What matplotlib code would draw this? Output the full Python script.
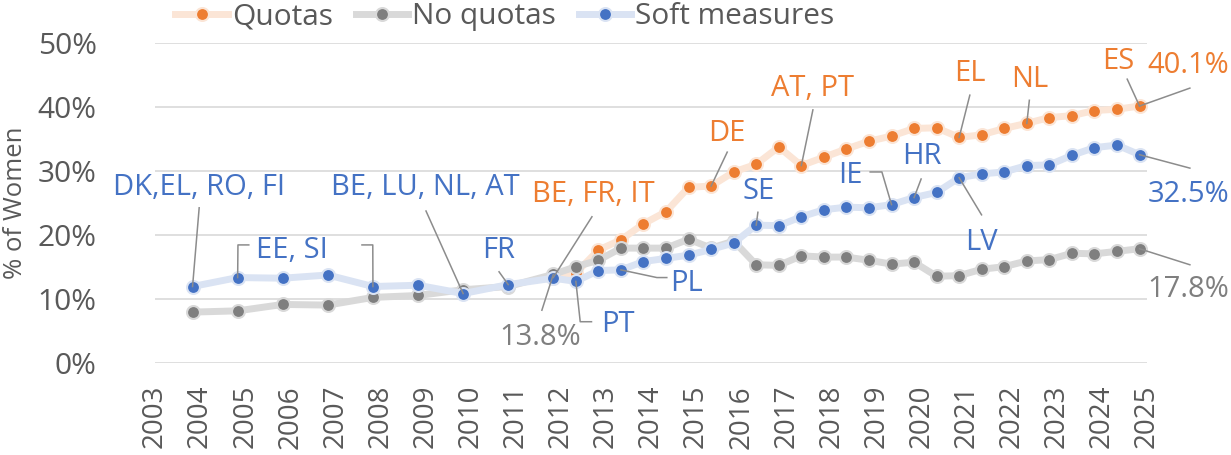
import numpy as np
import matplotlib.pyplot as plt
from matplotlib.lines import Line2D

# survey rounds: October each year up to 2011, then April and October
periods = ["2003-10", "2004-10", "2005-10", "2006-10", "2007-10", "2008-10",
           "2009-10", "2010-10", "2011-10", "2012-04", "2012-10", "2013-04",
           "2013-10", "2014-04", "2014-10", "2015-04", "2015-10", "2016-04",
           "2016-10", "2017-04", "2017-10", "2018-04", "2018-10", "2019-04",
           "2019-10", "2020-04", "2020-10", "2021-04", "2021-10", "2022-04",
           "2022-10", "2023-04", "2023-10", "2024-04", "2024-10"]

quotas = [np.nan, np.nan, np.nan, np.nan, np.nan, np.nan, np.nan, np.nan,
          13.3, 14.0, 17.6, 19.2, 21.7, 23.6, 27.4, 27.6, 29.8, 31.0, 33.7,
          30.8, 32.1, 33.4, 34.6, 35.4, 36.6, 36.7, 35.2, 35.6, 36.6, 37.4,
          38.3, 38.6, 39.4, 39.6, 40.1]
no_quotas = [7.9, 8.1, 9.1, 9.0, 10.2, 10.5, 11.4, 11.9, 13.8, 15.0, 16.0,
             17.9, 17.9, 17.9, 19.3, 17.9, 19.0, 15.3, 15.2, 16.7, 16.5, 16.5,
             16.0, 15.4, 15.7, 13.5, 13.6, 14.6, 15.0, 15.9, 16.1, 17.1, 17.0,
             17.4, 17.8]
soft = [11.9, 13.3, 13.2, 13.7, 11.9, 12.1, 10.8, 12.2, 13.2, 12.7, 14.4,
        14.5, 15.8, 16.3, 16.8, 17.7, 18.7, 21.5, 21.4, 22.8, 23.9, 24.3, 24.2,
        24.7, 25.8, 26.6, 28.9, 29.5, 29.8, 30.8, 30.9, 32.4, 33.6, 34.0, 32.5]

years = list(range(2003, 2026))
pct_ticks = [0, 10, 20, 30, 40, 50]

x = np.array([int(p[:4]) + int(p[5:]) / 12 for p in periods])

ORANGE, ORANGE_L = "#ED7D31", "#FBE5D6"
GREY, GREY_L = "#7F7F7F", "#D9D9D9"
BLUE, BLUE_L = "#4472C4", "#DAE3F3"
LEAD = "#8C8C8C"
TXT = "#595959"

plt.rcParams["font.family"] = ["Open Sans", "DejaVu Sans"]

fig = plt.figure(figsize=(12.31, 4.55), dpi=100)
ax = fig.add_axes([0.1259, 0.2029, 0.8059, 0.7033])

series = [("Quotas", quotas, ORANGE, ORANGE_L),
          ("No quotas", no_quotas, GREY, GREY_L),
          ("Soft measures", soft, BLUE, BLUE_L)]
handles = []
for name, vals, c, cl in series:
    ax.plot(x, vals, color=cl, lw=5, marker="o", ms=9.3, mfc=c, mec=cl,
            mew=1.5, solid_joinstyle="round", zorder=3, clip_on=False)
    handles.append(Line2D([], [], color=cl, lw=5, marker="o", ms=9.3,
                          mfc=c, mec=cl, mew=1.5, label=name))

ax.set_xlim(2003, 2025)
ax.set_ylim(0, 50)
ax.set_xticks(years)
ax.set_xticklabels([str(y) for y in years], rotation=90)
ax.set_yticks(pct_ticks)
ax.set_yticklabels([f"{v}%" for v in pct_ticks])
ax.tick_params(axis="y", length=0, pad=42, labelsize=21.5, labelcolor=TXT)
ax.tick_params(axis="x", length=0, pad=16, labelsize=20, labelcolor=TXT)
ax.grid(axis="y", color=GREY_L, lw=1.2)
ax.set_axisbelow(True)
for s in ax.spines.values():
    s.set_visible(False)
ax.set_ylabel("% of Women", fontsize=18.5, color=TXT)
ax.yaxis.set_label_coords(-0.128, 0.5)

fig.legend(handles=handles, loc="center", bbox_to_anchor=(505 / 1231, 0.963),
           ncol=3, frameon=False, fontsize=21.5, handlelength=1.75,
           handletextpad=0.15, columnspacing=0.75, labelcolor=TXT,
           borderaxespad=0, borderpad=0)

# labels: text, colour, text centre, leader bends, series, period of point
notes = [
    ("DK,EL, RO, FI", BLUE, (2003.98, 27.3), [(2003.98, 24.2)], soft, "2003-10"),
    ("EE, SI", BLUE, (2006.04, 17.6), [(2005.08, 18.4), (2004.84, 18.4)], soft, "2004-10"),
    ("", BLUE, None, [(2007.59, 18.4), (2007.83, 18.4)], soft, "2007-10"),
    ("BE, LU, NL, AT", BLUE, (2008.99, 27.3), [(2009.01, 23.7)], soft, "2009-10"),
    ("FR", BLUE, (2010.63, 17.6), [(2010.63, 14.2)], soft, "2010-10"),
    ("BE, FR, IT", ORANGE, (2012.71, 26.2), [(2012.69, 22.8)], quotas, "2011-10"),
    ("13.8%", GREY, (2011.54, 3.9), [(2011.58, 8.2)], no_quotas, "2011-10"),
    ("PT", BLUE, (2013.27, 6.0), [(2012.68, 6.4), (2012.43, 6.4)], soft, "2012-04"),
    ("PL", BLUE, (2014.79, 12.4), [(2014.35, 13.3), (2014.13, 13.3)], soft, "2013-04"),
    ("SE", BLUE, (2016.38, 26.7), [(2016.37, 23.5)], soft, "2016-04"),
    ("DE", ORANGE, (2015.68, 35.8), [(2015.69, 32.9)], quotas, "2015-04"),
    ("AT, PT", ORANGE, (2017.59, 42.9), [(2017.59, 39.5)], quotas, "2017-04"),
    ("IE", BLUE, (2018.41, 29.3), [(2018.86, 29.8), (2019.12, 29.8)], soft, "2019-04"),
    ("HR", BLUE, (2020.0, 32.2), [(2019.99, 28.7)], soft, "2019-10"),
    ("LV", BLUE, (2021.33, 18.75), [(2021.33, 23.1)], soft, "2020-10"),
    ("EL", ORANGE, (2021.07, 45.2), [(2021.07, 41.8)], quotas, "2020-10"),
    ("NL", ORANGE, (2022.39, 44.2), [(2022.39, 41.0)], quotas, "2022-04"),
    ("ES", ORANGE, (2024.36, 47.0), [(2024.56, 44.3)], quotas, "2024-10"),
    ("40.1%", ORANGE, (2025.91, 46.5), [(2025.95, 42.9)], quotas, "2024-10"),
    ("32.5%", BLUE, (2025.91, 26.2), [(2025.95, 30.4)], soft, "2024-10"),
    ("17.8%", GREY, (2025.91, 11.4), [(2025.95, 15.3)], no_quotas, "2024-10"),
]

for text, col, pos, bends, vals, per in notes:
    i = periods.index(per)
    lx = [b[0] for b in bends] + [x[i]]
    ly = [b[1] for b in bends] + [vals[i]]
    ax.plot(lx, ly, color=LEAD, lw=1.1, zorder=4, clip_on=False)
    if text:
        ax.text(pos[0], pos[1], text, color=col, fontsize=21, ha="center",
                va="center", zorder=5)

fig.savefig("out.png", dpi=100)
